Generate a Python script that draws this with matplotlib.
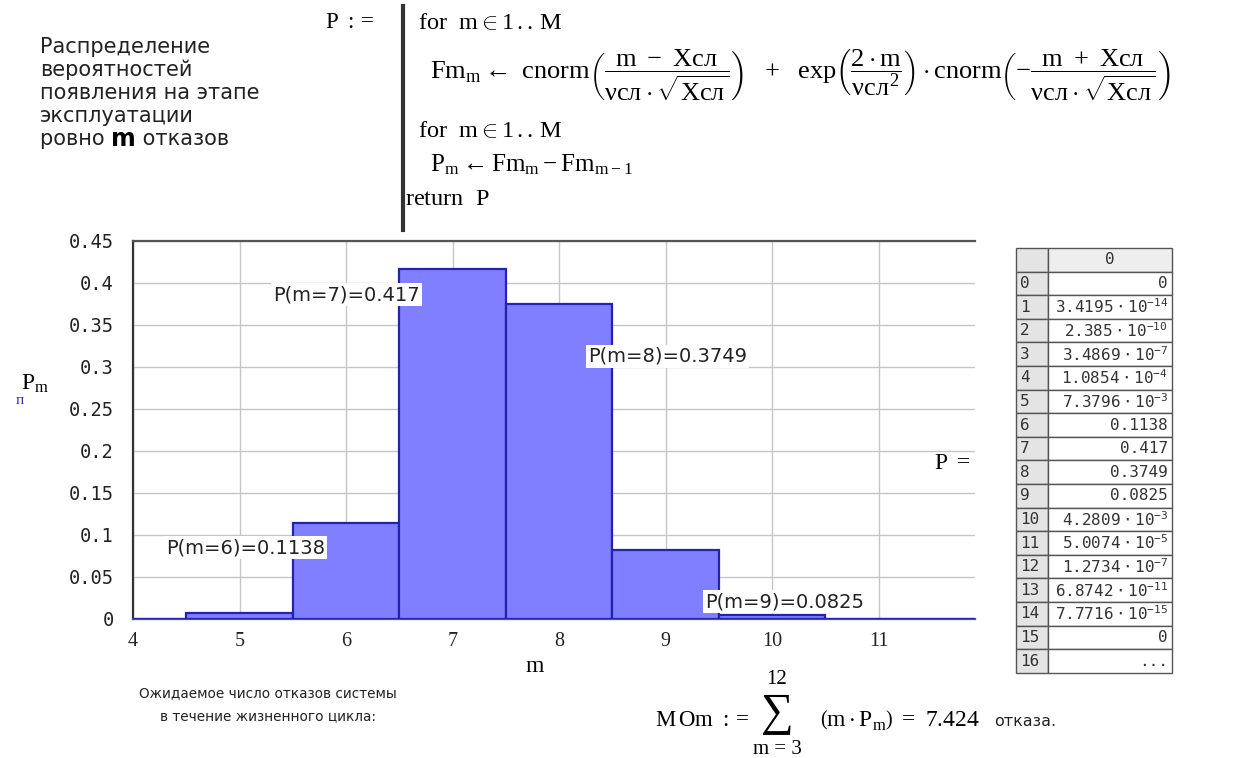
import matplotlib
matplotlib.use("Agg")
import matplotlib.pyplot as plt
from matplotlib.lines import Line2D
from matplotlib.patches import Rectangle

# ---------------- data ----------------
m_index = list(range(0, 17))
P_values = [0, 3.4195e-14, 2.385e-10, 3.4869e-7, 1.0854e-4, 7.3796e-3,
            0.1138, 0.417, 0.3749, 0.0825, 4.2809e-3, 5.0074e-5,
            1.2734e-7, 6.8742e-11, 7.7716e-15, 0]
x_ticks = [4, 5, 6, 7, 8, 9, 10, 11]
y_ticks = [0, 0.05, 0.1, 0.15, 0.2, 0.25, 0.3, 0.35, 0.4, 0.45]
labelled_m = [7, 8, 6, 9]
expected_value = 7.424
sum_lower, sum_upper = 3, 12

left_text = ["Распределение", "вероятностей", "появления на этапе",
             "эксплуатации"]
bottom_text = ["Ожидаемое число отказов системы", "в течение жизненного цикла:"]

# ---------------- style ----------------
SANS = "DejaVu Sans"
SERIF = "Liberation Serif"
MONO = "DejaVu Sans Mono"
plt.rcParams.update({
    "mathtext.fontset": "custom",
    "mathtext.rm": "Liberation Serif",
    "mathtext.it": "Liberation Serif",
    "mathtext.bf": "Liberation Serif:bold",
    "mathtext.sf": "DejaVu Sans Mono",
})
W, H = 1246, 758
fig = plt.figure(figsize=(W / 100, H / 100), dpi=100)
fig.patch.set_facecolor("white")
renderer = fig.canvas.get_renderer()


def fx(px):
    return px / W


def fy(py):
    return 1 - py / H


def right_px(t):
    return t.get_window_extent(renderer=renderer).x1


TXT = "#222222"
LS = 15

# ---------------- left description ----------------
for i, line in enumerate(left_text):
    fig.text(fx(40), fy(47 + 23 * i), line, family=SANS, fontsize=LS,
             color=TXT, va="center", ha="left")
ya = fy(47 + 23 * 4)
t1 = fig.text(fx(40), ya, "ровно ", family=SANS, fontsize=LS,
              color=TXT, va="center", ha="left")
x1 = right_px(t1)
t2 = fig.text(x1 / W, ya, "m", family=SANS, fontsize=LS + 2,
              weight="bold", color="black", va="center", ha="left")
x2 = right_px(t2)
fig.text(x2 / W, ya, " отказов", family=SANS, fontsize=LS,
         color=TXT, va="center", ha="left")

# ---------------- program block ----------------
MS = 17.5
fig.text(fx(325), fy(22), r"$\mathrm{P\ :=}$", fontsize=MS - 1, va="center", ha="left")
fig.add_artist(Line2D([fx(403), fx(403)], [fy(6), fy(230)], color="#333333",
                      lw=3, transform=fig.transFigure))
fig.text(fx(418), fy(22), r"$\mathrm{for\ \ m \in 1\,..\,M}$", fontsize=MS,
         va="center", ha="left")
fig.text(fx(430), fy(75),
         r"$\mathrm{Fm_m} \leftarrow\ \mathrm{cnorm}\left(\dfrac{m\ -\ Xсл}{νсл\cdot\sqrt{Xсл}}\right)"
         r"\ \ +\ \ \mathrm{exp}\left(\dfrac{2\cdot m}{νсл^{2}}\right)\cdot\mathrm{cnorm}"
         r"\left(-\dfrac{m\ +\ Xсл}{νсл\cdot\sqrt{Xсл}}\right)$",
         fontsize=19, va="center", ha="left")
fig.text(fx(418), fy(130), r"$\mathrm{for\ \ m \in 1\,..\,M}$", fontsize=MS,
         va="center", ha="left")
fig.text(fx(430), fy(165), r"$\mathrm{P_m \leftarrow Fm_m - Fm_{m-1}}$",
         fontsize=MS + 0.5, va="center", ha="left")
fig.text(fx(405), fy(198), r"$\mathrm{return\ \ P}$", fontsize=MS,
         va="center", ha="left")

# ---------------- chart ----------------
ax_left, ax_right, ax_top, ax_bottom = 133, 975, 241, 619
ax = fig.add_axes([fx(ax_left), fy(ax_bottom), (ax_right - ax_left) / W,
                   (ax_bottom - ax_top) / H])
unit = 106.5
ax.set_xlim(4, 4 + (ax_right - ax_left) / unit)
ax.set_ylim(0, 0.45)

ms = m_index[1:len(P_values)]
ps = P_values[1:]
ax.bar(ms, ps, width=1.0, color="#7f7fff", edgecolor="#2323b0",
       linewidth=1.6, zorder=3)

ax.set_xticks(x_ticks)
ax.set_xticklabels([str(t) for t in x_ticks], family=SERIF, fontsize=14.5,
                   color=TXT)
ax.set_yticks(y_ticks)
ax.set_yticklabels([f"{t:g}" for t in y_ticks], family=MONO, fontsize=13.5,
                   color=TXT)
ax.tick_params(axis="y", length=0, pad=14)
ax.tick_params(axis="x", length=0, pad=9)
ax.grid(True, color="#c6c6c6", lw=1, zorder=0)
ax.spines["right"].set_visible(False)
ax.spines["left"].set_color("#333333")
ax.spines["left"].set_linewidth(1.6)
ax.spines["top"].set_color("#555555")
ax.spines["top"].set_linewidth(1.6)
ax.spines["bottom"].set_color("#4a4ab0")
ax.spines["bottom"].set_linewidth(1.6)

# annotations: (ha, dx, dy) relative to bar (m, P)
ann_layout = {7: ("right", -0.31, -0.031),
              8: ("left", 0.27, -0.062),
              6: ("right", -0.20, -0.029),
              9: ("left", 0.37, -0.062)}
for m in labelled_m:
    ha, dx, dy = ann_layout[m]
    ax.text(m + dx, P_values[m] + dy, f"P(m={m})={P_values[m]:g}",
            family=SANS, fontsize=14, color=TXT, ha=ha, va="center",
            zorder=5, bbox=dict(facecolor="white", edgecolor="none", pad=1.5))

# axis labels
fig.text(fx(21), fy(383), r"$\mathrm{P_m}$", fontsize=17, va="center", ha="left")
fig.text(fx(16), fy(401), "п", family=SERIF, fontsize=11, color="#2a2ad0",
         va="center", ha="left")
fig.text(fx(535), fy(665), r"$\mathrm{m}$", fontsize=17, va="center", ha="center")

# ---------------- table ----------------
t_left, t_div, t_right = 1016, 1048, 1172
t_top, row_h = 248, 23.6
fig.text(fx(934), fy(462), r"$\mathrm{P\ =}$", fontsize=17, va="center", ha="left")
n_rows = len(m_index) + 1
for r in range(n_rows):
    y0 = t_top + r * row_h
    fig.add_artist(Rectangle((fx(t_left), fy(y0 + row_h)), (t_div - t_left) / W,
                             row_h / H, facecolor="#e4e4e4", edgecolor="#555555",
                             lw=1, transform=fig.transFigure))
    fig.add_artist(Rectangle((fx(t_div), fy(y0 + row_h)), (t_right - t_div) / W,
                             row_h / H,
                             facecolor="#eeeeee" if r == 0 else "white",
                             edgecolor="#555555", lw=1, transform=fig.transFigure))
    yc = y0 + row_h / 2
    if r == 0:
        fig.text(fx((t_div + t_right) / 2), fy(yc), "0", family=MONO, fontsize=11.5,
                 color="#333333", ha="center", va="center")
        continue
    i = m_index[r - 1]
    fig.text(fx(t_left + 4), fy(yc), str(i), family=MONO, fontsize=11.5,
             color="#333333", ha="left", va="center")
    if i < len(P_values):
        v = P_values[i]
        if v == 0 or v >= 0.01:
            s = f"{v:g}"
        else:
            e = int(f"{v:e}".split("e")[1])
            mant = f"{v / 10 ** e:.4f}".rstrip("0").rstrip(".")
            s = rf"$\mathsf{{{mant}\cdot10^{{{e}}}}}$"
    else:
        s = "..."
    fig.text(fx(t_right - 4), fy(yc), s, family=MONO, fontsize=11.5,
             color="#333333", ha="right", va="center")

# ---------------- bottom expected value ----------------
for i, line in enumerate(bottom_text):
    fig.text(fx(268), fy(693 + 23 * i), line, family=SANS, fontsize=9.8,
             color=TXT, ha="center", va="center")
fig.text(fx(655), fy(720), r"$\mathrm{M\,Om\ :=}$", fontsize=MS - 1, va="center", ha="left")
fig.text(fx(777), fy(713), "∑", family=SERIF, fontsize=33, va="center", ha="center")
fig.text(fx(777), fy(680), f"{sum_upper}", family=SERIF, fontsize=15,
         va="center", ha="center")
fig.text(fx(777), fy(750), f"m = {sum_lower}", family=SERIF, fontsize=15,
         va="center", ha="center")
fig.text(fx(820), fy(720),
         rf"$\left(\mathrm{{m\cdot P_m}}\right)\ =\ {expected_value}$",
         fontsize=MS - 0.5, va="center", ha="left")
fig.text(fx(994), fy(722), "отказа.", family=SANS, fontsize=11.5, color=TXT,
         va="center", ha="left")

fig.savefig("out.png", dpi=100, facecolor="white")
